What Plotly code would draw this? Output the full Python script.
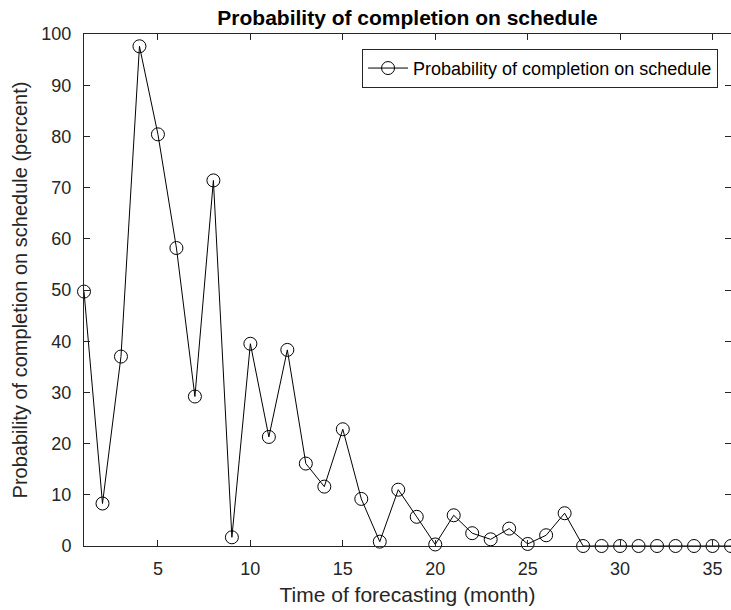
import plotly.graph_objects as go

# Forecast month and the probability (percent) of finishing on schedule
months = list(range(1, 37))
probability = [
    49.7, 8.3, 37.0, 97.6, 80.4, 58.2, 29.2, 71.4, 1.7, 39.5,
    21.3, 38.3, 16.1, 11.6, 22.8, 9.2, 0.85, 11.0, 5.7, 0.3,
    6.0, 2.5, 1.3, 3.4, 0.4, 2.1, 6.4, 0.0, 0.0, 0.0,
    0.0, 0.0, 0.0, 0.0, 0.0, 0.0,
]
x_ticks = [5, 10, 15, 20, 25, 30, 35]
y_ticks = list(range(0, 101, 10))

series_name = "Probability of completion on schedule"
axis_color = "#262626"
font_family = "Liberation Sans, Arial, Helvetica, sans-serif"

fig = go.Figure()
fig.add_trace(go.Scatter(
    x=months,
    y=probability,
    mode="lines+markers",
    name=series_name,
    line=dict(color="black", width=1),
    marker=dict(symbol="circle-open", size=13, color="black",
                line=dict(color="black", width=1)),
    cliponaxis=False,
))

fig.update_layout(
    width=731,
    height=610,
    margin=dict(l=84, r=0, t=34, b=64),
    paper_bgcolor="white",
    plot_bgcolor="white",
    font=dict(family=font_family, size=17, color=axis_color),
    title=dict(
        text=series_name,
        x=0.5 * (84 + 731) / 731,
        xanchor="center",
        y=1 - 18 / 610,
        yanchor="middle",
        font=dict(family=font_family, size=21, color="black", weight="bold"),
    ),
    showlegend=True,
    legend=dict(
        x=0.98, xanchor="right",
        y=0.971, yanchor="top",
        bgcolor="white",
        bordercolor=axis_color,
        borderwidth=1,
        font=dict(family=font_family, size=18, color="black"),
        itemwidth=40,
    ),
)

fig.update_xaxes(
    range=[1, 36],
    tickvals=x_ticks,
    ticks="inside",
    ticklen=6,
    tickwidth=1,
    tickcolor=axis_color,
    showline=True,
    linecolor=axis_color,
    linewidth=1,
    mirror="ticks",
    showgrid=False,
    zeroline=False,
    tickfont=dict(size=18, color=axis_color),
    ticklabelstandoff=6,
    title=dict(text="Time of forecasting (month)", font=dict(size=21, color=axis_color), standoff=9),
)
fig.update_yaxes(
    range=[0, 100],
    tickvals=y_ticks,
    ticks="inside",
    ticklen=6,
    tickwidth=1,
    tickcolor=axis_color,
    showline=True,
    linecolor=axis_color,
    linewidth=1,
    mirror="ticks",
    showgrid=False,
    zeroline=False,
    tickfont=dict(size=18, color=axis_color),
    ticklabelstandoff=8,
    title=dict(text="Probability of completion on schedule (percent)",
               font=dict(size=20, color=axis_color), standoff=8),
)

fig.write_html("out.html")
